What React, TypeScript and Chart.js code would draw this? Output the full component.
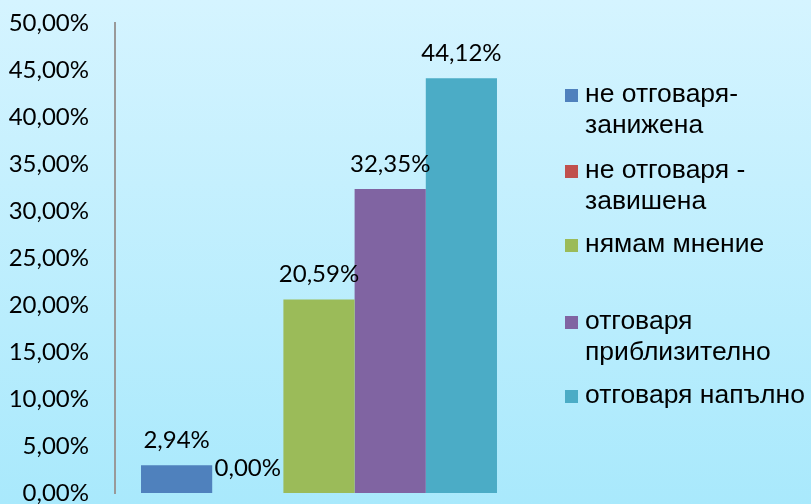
import React, { useEffect, useRef } from "react";
import { Chart, registerables } from "chart.js";

Chart.register(...registerables);

const categories = [""];
const seriesNames = [
  ["не отговаря-", "занижена"],
  ["не отговаря -", "завишена"],
  ["нямам мнение"],
  ["отговаря", "приблизително"],
  ["отговаря напълно"],
];
const seriesValues = [2.94, 0.0, 20.59, 32.35, 44.12];
const seriesColors = ["#4F81BD", "#C0504D", "#9BBB59", "#8064A2", "#4BACC6"];
const legendY = [95, 171, 245, 322, 396];

const fmt = (v: number) => v.toFixed(2).replace(".", ",") + "%";

const TICK_FONT = "Lato";
const LEGEND_FONT = "'Liberation Sans', Arial, sans-serif";

const labelsPlugin = {
  id: "valueLabels",
  afterDatasetsDraw(chart: any) {
    const ctx = chart.ctx;
    ctx.save();
    ctx.font = `24px ${TICK_FONT}`;
    ctx.fillStyle = "#000";
    ctx.textAlign = "center";
    ctx.textBaseline = "middle";
    chart.data.datasets.forEach((ds: any, i: number) => {
      const meta = chart.getDatasetMeta(i);
      meta.data.forEach((bar: any, j: number) => {
        ctx.fillText(fmt(ds.data[j]), bar.x, bar.y - 25);
      });
    });
    ctx.restore();
  },
};

const legendPlugin = {
  id: "sideLegend",
  afterDraw(chart: any) {
    const ctx = chart.ctx;
    ctx.save();
    ctx.font = `26.5px ${LEGEND_FONT}`;
    ctx.textBaseline = "middle";
    ctx.textAlign = "left";
    chart.data.datasets.forEach((ds: any, i: number) => {
      const y = legendY[i];
      ctx.fillStyle = ds.backgroundColor;
      ctx.fillRect(565, y - 6, 13, 13);
      ctx.fillStyle = "#000";
      seriesNames[i].forEach((line, k) => {
        ctx.fillText(line, 585, y + k * 31);
      });
    });
    ctx.restore();
  },
};

export default function App() {
  const ref = useRef<HTMLCanvasElement>(null);
  useEffect(() => {
    document.body.style.margin = "0";
    const chart = new Chart(ref.current!, {
      type: "bar",
      data: {
        labels: categories,
        datasets: seriesValues.map((v, i) => ({
          label: seriesNames[i].join(" "),
          data: [v],
          backgroundColor: seriesColors[i],
          categoryPercentage: 0.8725,
          barPercentage: 1,
        })),
      },
      options: {
        animation: false,
        responsive: false,
        maintainAspectRatio: false,
        layout: { padding: { left: 0, right: 288, top: 23, bottom: 11 } },
        plugins: { legend: { display: false }, tooltip: { enabled: false } },
        scales: {
          x: { display: false },
          y: {
            min: 0,
            max: 50,
            afterFit: (s: any) => {
              s.width = 115;
              s.paddingTop = 0;
              s.paddingBottom = 0;
            },
            ticks: {
              stepSize: 5,
              padding: 26,
              color: "#000",
              font: { family: TICK_FONT, size: 24, lineHeight: 0.8 },
              callback: (v: any) => fmt(Number(v)),
            },
            grid: { display: false, drawTicks: false },
            border: { display: true, color: "#999", width: 2 },
          },
        },
      },
      plugins: [labelsPlugin, legendPlugin],
    });
    return () => chart.destroy();
  }, []);
  return (
    <div
      style={{
        width: 811,
        height: 504,
        background: "linear-gradient(#D5F4FF, #A9E9FC)",
      }}
    >
      <canvas ref={ref} width={811} height={504} style={{ display: "block" }} />
    </div>
  );
}
